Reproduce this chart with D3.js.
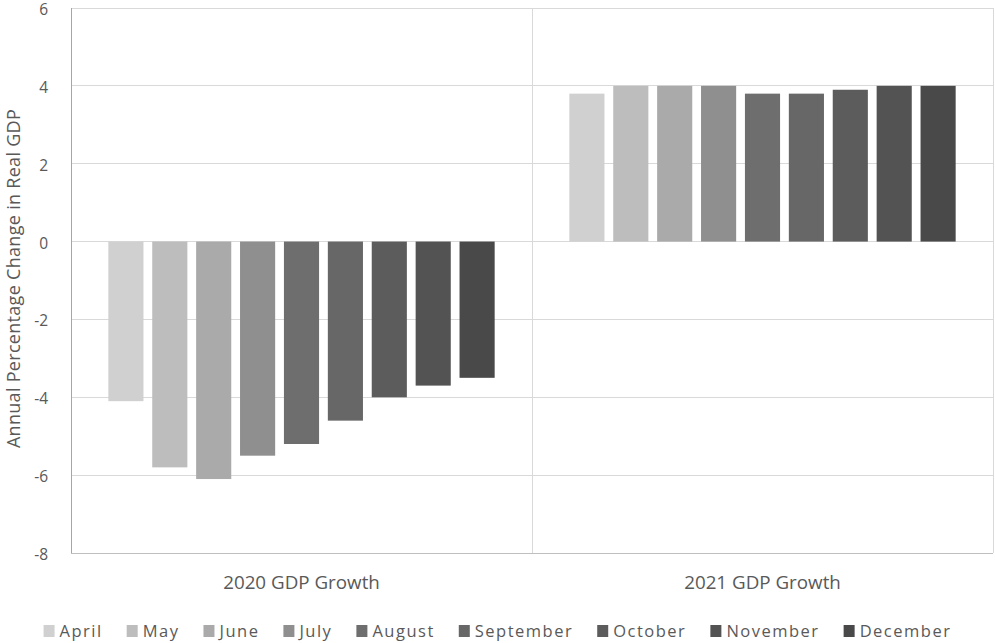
<!DOCTYPE html>
<html><head><meta charset="utf-8">
<script src="https://cdn.jsdelivr.net/npm/d3@7"></script>
<style>body{margin:0;background:#fff}svg{display:block}</style>
</head><body>
<svg id="chart" width="995" height="643"></svg>
<script>
const groups = ["2020 GDP Growth", "2021 GDP Growth"];
const months = ["April","May","June","July","August","September","October","November","December"];
const values2020 = [-4.1,-5.8,-6.1,-5.5,-5.2,-4.6,-4.0,-3.7,-3.5];
const values2021 = [3.8,4.0,4.0,4.0,3.8,3.8,3.9,4.0,4.0];
const yTicks = [6,4,2,0,-2,-4,-6,-8];
const colors = ["#d0d0d0","#bdbdbd","#aaaaaa","#8f8f8f","#6e6e6e","#676767","#5c5c5c","#535353","#494949"];
const yTitle = "Annual Percentage Change in Real GDP";

const seriesByGroup = [values2020, values2021];
const svg = d3.select("#chart");
const m = {left:71, right:993, top:8, bottom:553};
const font = "'Open Sans', sans-serif";
const textColor = "#595959";

const y = d3.scaleLinear().domain([-8,6]).range([m.bottom, m.top]);
const x0 = d3.scaleBand().domain(groups).range([m.left, m.right]).padding(0);
const bw0 = x0.bandwidth();
const x1 = d3.scaleBand().domain(months).range([bw0*0.081, bw0*0.919]).paddingInner(0.2).paddingOuter(0);

// gridlines
svg.append("g").selectAll("line").data(yTicks.filter(d=>d!==-8)).join("line")
  .attr("x1", m.left).attr("x2", m.right).attr("y1", d=>y(d)).attr("y2", d=>y(d))
  .attr("stroke", "#d9d9d9").attr("stroke-width", 1).attr("shape-rendering","crispEdges");
// vertical category separators
svg.append("g").selectAll("line").data(groups).join("line")
  .attr("x1", d=>x0(d)+bw0).attr("x2", d=>x0(d)+bw0)
  .attr("y1", m.top).attr("y2", m.bottom)
  .attr("stroke", "#d9d9d9").attr("shape-rendering","crispEdges");

// bars
const gGroups = svg.append("g").selectAll("g").data(groups).join("g")
  .attr("transform", d=>`translate(${x0(d)},0)`);
gGroups.selectAll("rect").data((g,i)=>months.map((mn,j)=>({mn, v: seriesByGroup[i][j], c: colors[j]}))).join("rect")
  .attr("x", d=>x1(d.mn)).attr("width", x1.bandwidth())
  .attr("y", d=>y(Math.max(0,d.v))).attr("height", d=>Math.abs(y(d.v)-y(0)))
  .attr("fill", d=>d.c);

// axes lines
svg.append("line").attr("x1", m.left).attr("x2", m.left).attr("y1", m.top).attr("y2", m.bottom)
  .attr("stroke", "#a6a6a6").attr("shape-rendering","crispEdges");
svg.append("line").attr("x1", m.left).attr("x2", m.right).attr("y1", m.bottom).attr("y2", m.bottom)
  .attr("stroke", "#bfbfbf").attr("shape-rendering","crispEdges");

// y tick labels
const yAxis = d3.axisLeft(y).tickValues(yTicks).tickSize(0).tickPadding(0).tickFormat(d=>String(d));
const ya = svg.append("g").attr("transform", `translate(${m.left-23},1.5)`).call(yAxis);
ya.select(".domain").remove();
ya.selectAll("text").attr("font-family", font).attr("font-size", 15.5).attr("fill", textColor);

// y title
svg.append("text").attr("transform", `translate(20,${(m.top+m.bottom)/2-2}) rotate(-90)`)
  .attr("text-anchor","middle").attr("font-family", font).attr("font-size", 18)
  .attr("letter-spacing", 0.3).attr("fill", textColor).text(yTitle);

// x category labels
const xAxis = d3.axisBottom(x0).tickSize(0).tickPadding(0);
const xa = svg.append("g").attr("transform", `translate(0,${m.bottom+23})`).call(xAxis);
xa.select(".domain").remove();
xa.selectAll("text").attr("font-family", font).attr("font-size", 18.8).attr("fill", textColor).attr("dy","0.71em");

// legend
const leg = svg.append("g");
const items = leg.selectAll("g").data(months).join("g");
items.append("rect").attr("width", 11).attr("height", 12).attr("y", -6)
  .attr("fill", (d,i)=>colors[i]);
items.append("text").attr("x", 16).attr("dy","0.35em").attr("font-family", font).attr("font-size", 16.5)
  .attr("letter-spacing", 1.5).attr("fill", textColor).text(d=>d);
let cx = 0; const gap = 24;
items.each(function(){
  const w = 16 + this.querySelector("text").getComputedTextLength();
  d3.select(this).attr("transform", `translate(${cx},631)`);
  cx += w + gap;
});
const total = cx - gap;
leg.attr("transform", `translate(${(43+952)/2 - total/2},0)`);
</script>
</body></html>
